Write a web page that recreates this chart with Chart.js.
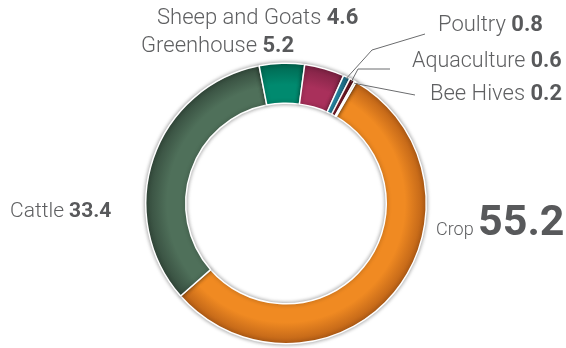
<!DOCTYPE html>
<html>
<head>
<meta charset="utf-8">
<script src="https://cdn.jsdelivr.net/npm/chart.js@4"></script>
<style>
  html, body { margin: 0; background: #fff; }
  #wrap { width: 566px; height: 348px; }
</style>
</head>
<body>
<div id="wrap"><canvas id="farm" width="566" height="348"></canvas></div>
<script>
// share of value by sector (%)
const labels = ['Crop', 'Cattle', 'Greenhouse', 'Sheep and Goats', 'Poultry', 'Aquaculture', 'Bee Hives'];
const values = [55.2, 33.4, 5.2, 4.6, 0.8, 0.6, 0.2];
const colors = ['#F08A22', '#4F705A', '#008A6F', '#A9305B', '#2C95B5', '#8C2030', '#E2D9A2'];
const shades = ['#B85F16', '#344A3C', '#00654F', '#7C2243', '#1E6E88', '#641620', '#B0A670'];

// where each label sits; line = leader from the slice outward
const labelLayout = [
  { x: 436, y: 235, size: 18, valueSize: 43 },
  { x: 10, y: 217, size: 21 },
  { x: 141, y: 52, size: 22 },
  { x: 157, y: 24, size: 22 },
  { x: 438, y: 31, size: 22, line: [[372, 50], [425, 34]] },
  { x: 412, y: 67, size: 21.5, line: [[358, 69], [390, 69]] },
  { x: 430, y: 100, size: 22, line: [[415, 95]] },
];

const FONT = "Roboto, 'Noto Sans', sans-serif";
const CUT = 0.715;

function ringGradient(ctx) {
  const chart = ctx.chart, a = chart.chartArea;
  const i = ctx.dataIndex;
  if (!a) return colors[i];
  const cx = (a.left + a.right) / 2, cy = (a.top + a.bottom) / 2;
  const rOut = Math.min(a.width, a.height) / 2;
  const rIn = rOut * CUT;
  const g = chart.ctx.createRadialGradient(cx, cy, rIn, cx, cy, rOut);
  g.addColorStop(0, colors[i]);
  g.addColorStop(0.45, colors[i]);
  g.addColorStop(1, shades[i]);
  return g;
}

// soft shadow under the ring
const ringShadow = {
  id: 'ringShadow',
  beforeDatasetsDraw(chart) {
    const c = chart.ctx;
    c.save();
    c.shadowColor = 'rgba(0,0,0,0.4)';
    c.shadowBlur = 4;
  },
  afterDatasetsDraw(chart) { chart.ctx.restore(); },
};

// category name + bold value, with leader lines for the thin slices
const sliceLabels = {
  id: 'sliceLabels',
  afterDraw(chart) {
    const c = chart.ctx;
    const arcs = chart.getDatasetMeta(0).data;
    c.save();
    labelLayout.forEach((L, i) => {
      if (L.line) {
        const arc = arcs[i];
        const mid = (arc.startAngle + arc.endAngle) / 2;
        const r = arc.outerRadius - 2;
        c.beginPath();
        c.moveTo(arc.x + Math.cos(mid) * r, arc.y + Math.sin(mid) * r);
        L.line.forEach(([px, py]) => c.lineTo(px, py));
        c.strokeStyle = '#6b6c6e';
        c.lineWidth = 1;
        c.stroke();
      }
      c.textBaseline = 'alphabetic';
      c.textAlign = 'left';
      c.font = `300 ${L.size}px ${FONT}`;
      c.fillStyle = '#5f6062';
      const name = labels[i] + ' ';
      c.fillText(name, L.x, L.y);
      const w = c.measureText(name).width;
      c.font = `bold ${L.valueSize || L.size}px ${FONT}`;
      c.fillStyle = '#58595b';
      c.fillText(values[i].toFixed(1), L.x + w, L.y);
    });
    c.restore();
  },
};

new Chart(document.getElementById('farm'), {
  type: 'doughnut',
  data: {
    labels,
    datasets: [{
      data: values,
      backgroundColor: ringGradient,
      borderColor: '#ffffff',
      borderWidth: 1.5,
    }],
  },
  options: {
    responsive: false,
    animation: false,
    devicePixelRatio: 1,
    cutout: (CUT * 100) + '%',
    rotation: 30,
    layout: { padding: { top: 62, bottom: 3, left: 145, right: 139 } },
    plugins: { legend: { display: false }, tooltip: { enabled: false } },
  },
  plugins: [ringShadow, sliceLabels],
});
</script>
</body>
</html>
